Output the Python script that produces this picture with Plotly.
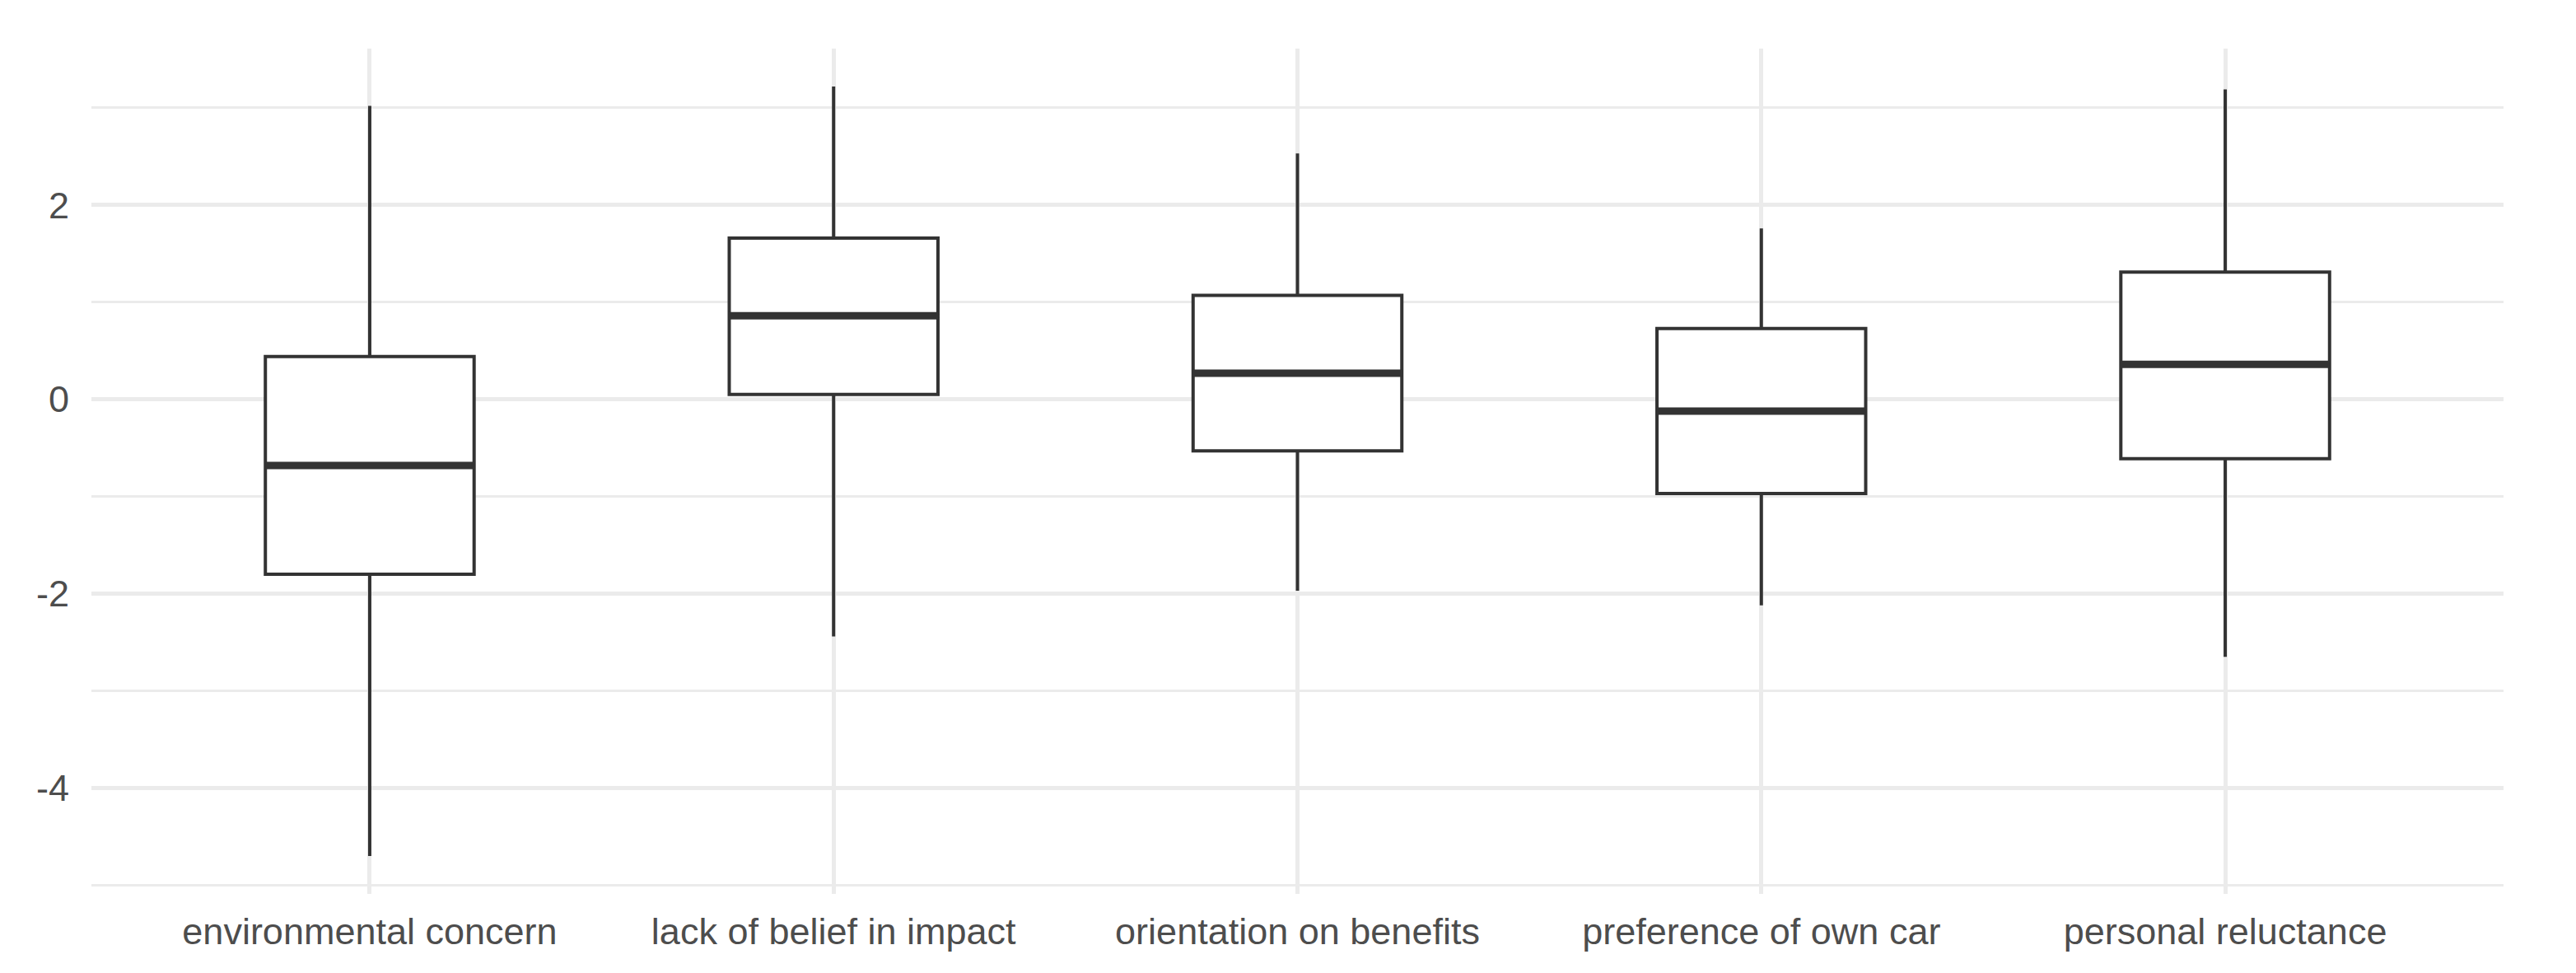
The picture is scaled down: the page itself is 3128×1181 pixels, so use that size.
import plotly.graph_objects as go

categories = ["environmental concern", "lack of belief in impact", "orientation on benefits",
              "preference of own car", "personal reluctance"]
upper = [3.02, 3.22, 2.53, 1.76, 3.19]
q3 = [0.44, 1.66, 1.07, 0.73, 1.31]
median = [-0.68, 0.86, 0.27, -0.12, 0.36]
q1 = [-1.80, 0.05, -0.53, -0.97, -0.61]
lower = [-4.70, -2.44, -1.97, -2.12, -2.65]
y_ticks = [-4, -2, 0, 2]

positions = list(range(len(categories)))
box_width = 0.45
line_color = "#333333"
grid_color = "#EBEBEB"
text_color = "#4D4D4D"

fig = go.Figure()
fig.add_trace(go.Box(
    x=positions, q1=q1, median=median, q3=q3,
    lowerfence=lower, upperfence=upper,
    width=box_width, fillcolor="white",
    line=dict(color=line_color, width=4),
    whiskerwidth=0, boxpoints=False, showlegend=False, hoverinfo="skip",
))

mx, my = [], []
for p, m in zip(positions, median):
    mx += [p - box_width / 2, p + box_width / 2, None]
    my += [m, m, None]
fig.add_trace(go.Scatter(x=mx, y=my, mode="lines",
                         line=dict(color=line_color, width=9),
                         showlegend=False, hoverinfo="skip"))

fig.update_layout(
    width=3120, height=1173,
    margin=dict(l=103, r=88, t=51, b=96),
    paper_bgcolor="white", plot_bgcolor="white",
    font=dict(family="Liberation Sans, Arial, sans-serif", size=45, color=text_color),
)
fig.update_xaxes(
    range=[-0.6, len(categories) - 0.4],
    tickmode="array", tickvals=positions, ticktext=categories,
    showgrid=True, gridcolor=grid_color, gridwidth=5,
    zeroline=False, showline=False,
    ticks="outside", ticklen=6, tickcolor="rgba(0,0,0,0)",
)
fig.update_yaxes(
    range=[-5.09, 3.61],
    tickmode="array", tickvals=y_ticks, ticktext=[f"{v:g}" for v in y_ticks],
    showgrid=True, gridcolor=grid_color, gridwidth=5,
    minor=dict(tickmode="linear", dtick=1, tick0=1, showgrid=True, gridcolor=grid_color, gridwidth=3),
    zeroline=False, showline=False,
    ticks="outside", ticklen=17, tickcolor="rgba(0,0,0,0)",
)

fig.write_html("out.html")
